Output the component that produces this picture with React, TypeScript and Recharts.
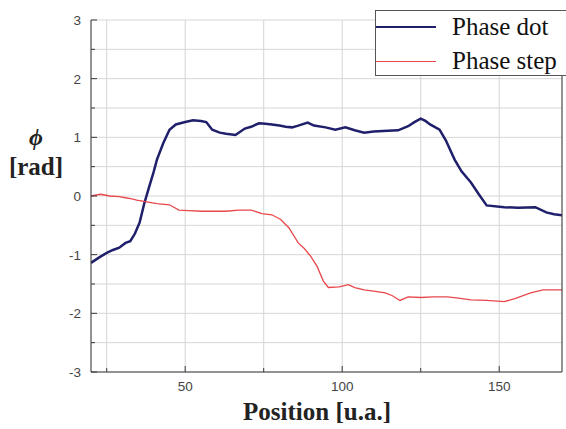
import { LineChart, Line, XAxis, YAxis, CartesianGrid } from 'recharts';

const dotX = [20, 22.5, 25, 27, 29, 31, 32.5, 34, 35.5, 37, 38.5, 40, 41, 43, 45, 47, 50, 52.5, 55, 56.7, 58.6, 61, 63, 66, 69, 71, 73.5, 75.5, 77.6, 80, 82, 84, 86, 89, 91, 94.7, 97.8, 101, 104, 107, 110, 113, 117.8, 121, 123, 125, 126.5, 128, 131, 133, 135.8, 138, 141, 143.5, 146, 151.6, 156, 161.5, 165, 167.5, 170];
const dotY = [-1.14, -1.05, -0.97, -0.92, -0.88, -0.8, -0.77, -0.64, -0.45, -0.12, 0.15, 0.42, 0.62, 0.9, 1.13, 1.22, 1.26, 1.29, 1.28, 1.26, 1.13, 1.08, 1.06, 1.04, 1.15, 1.18, 1.24, 1.23, 1.22, 1.2, 1.18, 1.17, 1.2, 1.25, 1.2, 1.17, 1.13, 1.17, 1.12, 1.08, 1.1, 1.11, 1.12, 1.19, 1.26, 1.32, 1.28, 1.22, 1.13, 0.95, 0.62, 0.42, 0.23, 0.03, -0.16, -0.19, -0.2, -0.19, -0.28, -0.31, -0.33];

const stepX = [20, 23, 26, 29, 31, 33, 34.6, 37.7, 41, 45, 48, 51, 55.4, 60, 63, 67, 71, 74.4, 77.6, 80.4, 83, 86, 88, 90, 92, 94, 95.6, 99, 102, 104, 107, 110, 113.7, 116, 118.4, 121, 125, 129, 133.6, 137, 141, 146, 151.6, 155, 160, 164, 170];
const stepY = [0, 0.03, 0, -0.01, -0.03, -0.05, -0.07, -0.1, -0.13, -0.15, -0.24, -0.25, -0.26, -0.26, -0.26, -0.24, -0.24, -0.3, -0.32, -0.4, -0.54, -0.8, -0.9, -1.03, -1.2, -1.45, -1.56, -1.55, -1.51, -1.56, -1.6, -1.62, -1.65, -1.7, -1.78, -1.72, -1.73, -1.72, -1.72, -1.74, -1.77, -1.78, -1.8, -1.75, -1.65, -1.6, -1.6];

const xTicks = [25, 50, 75, 100, 125, 150];
const xLabels = [50, 100, 150];
const yTicks = [-3, -2.5, -2, -1.5, -1, -0.5, 0, 0.5, 1, 1.5, 2, 2.5, 3];

const seriesNames = ['Phase dot', 'Phase step'];
const seriesColors = ['#1f1f6b', '#e8474c'];

const dotData = dotX.map((x, i) => ({ x, v: dotY[i] }));
const stepData = stepX.map((x, i) => ({ x, v: stepY[i] }));

const frame = '#3a3a3a';
const serif = 'Liberation Serif, Times New Roman, serif';
const tickFont = { fontFamily: 'Liberation Sans, Arial, sans-serif', fontSize: 13.5, fill: '#444' };

const BottomTick = (props: any) => {
  const { x, y, payload } = props;
  const major = xLabels.includes(payload.value);
  return (
    <g>
      <line x1={x} x2={x} y1={y - 12} y2={y - 12 - (major ? 6 : 4)} stroke={frame} />
      {major && (
        <text x={x} y={y + 7} textAnchor="middle" {...tickFont}>
          {payload.value}
        </text>
      )}
    </g>
  );
};

const TopTick = (props: any) => {
  const { x, y, payload } = props;
  const major = xLabels.includes(payload.value);
  return <line x1={x} x2={x} y1={y} y2={y + (major ? 6 : 4)} stroke={frame} />;
};

const LeftTick = (props: any) => {
  const { x, y, payload } = props;
  const major = Number.isInteger(payload.value);
  return (
    <g>
      <line x1={x + 10} x2={x + 10 + (major ? 6 : 4)} y1={y} y2={y} stroke={frame} />
      {major && (
        <text x={x} y={y + 5} textAnchor="end" {...tickFont}>
          {payload.value}
        </text>
      )}
    </g>
  );
};

const RightTick = (props: any) => {
  const { x, y, payload } = props;
  const major = Number.isInteger(payload.value);
  return <line x1={x} x2={x - (major ? 6 : 4)} y1={y} y2={y} stroke={frame} />;
};

// legend drawn as an overlay so it takes no room from the plot
const LegendBox = () => (
  <div
    style={{
      position: 'absolute',
      left: 375,
      top: 10,
      border: '1px solid #555',
      background: '#fff',
      width: 200,
      height: 64,
      fontFamily: serif,
      fontSize: 25,
      color: '#111',
    }}
  >
    {seriesNames.map((n, i) => (
      <div key={n} style={{ position: 'absolute', left: 0, top: i * 34 - 1, height: 34, display: 'flex', alignItems: 'center', whiteSpace: 'nowrap' }}>
        <div style={{ width: 60, height: 0, borderTop: `${i === 0 ? 2.5 : 1.3}px solid ${seriesColors[i]}`, marginRight: 16 }} />
        <span>{n}</span>
      </div>
    ))}
  </div>
);

export default function App() {
  return (
    <div style={{ position: 'absolute', left: 0, top: 0, width: 566, height: 429, overflow: 'hidden', background: '#fff' }}>
      <LineChart width={566} height={429} margin={{ top: 20, right: 0, left: 0, bottom: 0 }}>
        <CartesianGrid stroke="#d6d6d6" strokeWidth={1} xAxisId="b" yAxisId="l" />
        <XAxis
          xAxisId="b"
          dataKey="x"
          type="number"
          domain={[20, 170]}
          ticks={xTicks}
          interval={0}
          height={57}
          tickSize={0}
          tickMargin={12}
          stroke={frame}
          tick={<BottomTick />}
          allowDataOverflow
        />
        <XAxis
          xAxisId="t"
          orientation="top"
          dataKey="x"
          type="number"
          domain={[20, 170]}
          ticks={xTicks}
          interval={0}
          height={0}
          tickSize={0}
          tickMargin={0}
          stroke={frame}
          tick={<TopTick />}
        />
        <YAxis
          yAxisId="l"
          type="number"
          domain={[-3, 3]}
          ticks={yTicks}
          interval={0}
          width={91}
          tickSize={0}
          tickMargin={10}
          stroke={frame}
          tick={<LeftTick />}
        />
        <YAxis
          yAxisId="r"
          orientation="right"
          type="number"
          domain={[-3, 3]}
          ticks={yTicks}
          interval={0}
          width={4}
          tickSize={0}
          tickMargin={0}
          stroke={frame}
          tick={<RightTick />}
        />
        <Line
          xAxisId="b"
          yAxisId="l"
          data={dotData}
          dataKey="v"
          name={seriesNames[0]}
          type="linear"
          stroke={seriesColors[0]}
          strokeWidth={2.5}
          dot={false}
          isAnimationActive={false}
        />
        <Line
          xAxisId="b"
          yAxisId="l"
          data={stepData}
          dataKey="v"
          name={seriesNames[1]}
          type="linear"
          stroke={seriesColors[1]}
          strokeWidth={1.3}
          dot={false}
          isAnimationActive={false}
        />
      </LineChart>
      <LegendBox />
      <div style={{ position: 'absolute', left: 0, top: 124, width: 72, textAlign: 'center', fontFamily: serif, fontWeight: 'bold', fontStyle: 'italic', fontSize: 24, color: '#222' }}>
        ϕ
      </div>
      <div style={{ position: 'absolute', left: 0, top: 153, width: 72, textAlign: 'center', fontFamily: serif, fontWeight: 'bold', fontSize: 25, color: '#222' }}>
        [rad]
      </div>
      <div style={{ position: 'absolute', left: 91, top: 398, width: 452, textAlign: 'center', fontFamily: serif, fontWeight: 'bold', fontSize: 25, color: '#222' }}>
        Position [u.a.]
      </div>
    </div>
  );
}
